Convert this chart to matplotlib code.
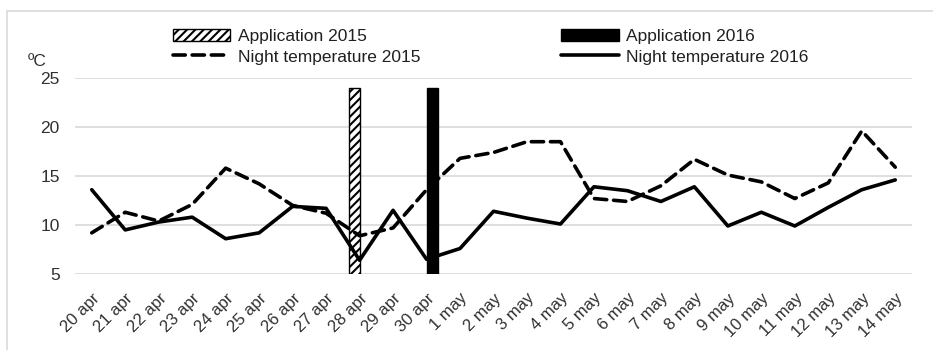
import matplotlib
matplotlib.use("Agg")
import matplotlib.pyplot as plt
import matplotlib.patches as mpatches
from matplotlib.lines import Line2D
import numpy as np

plt.rcParams['font.family'] = ['Liberation Sans', 'DejaVu Sans']
plt.rcParams['hatch.linewidth'] = 1.5

dates = ["20 apr", "21 apr", "22 apr", "23 apr", "24 apr", "25 apr", "26 apr",
         "27 apr", "28 apr", "29 apr", "30 apr", "1 may", "2 may", "3 may",
         "4 may", "5 may", "6 may", "7 may", "8 may", "9 may", "10 may",
         "11 may", "12 may", "13 may", "14 may"]

night_2015 = [9.2, 11.3, 10.4, 12.1, 15.8, 14.2, 12.0, 11.2, 8.9, 9.7, 13.6,
              16.8, 17.4, 18.5, 18.5, 12.7, 12.4, 14.0, 16.7, 15.1, 14.4,
              12.7, 14.3, 19.6, 15.9]
night_2016 = [13.6, 9.5, 10.3, 10.8, 8.6, 9.2, 11.9, 11.7, 6.4, 11.5, 6.5,
              7.6, 11.4, 10.7, 10.1, 13.9, 13.5, 12.4, 13.9, 9.9, 11.3,
              9.9, 11.8, 13.6, 14.6]

app_2015_dates = ["28 apr"]
app_2015_values = [24]
app_2016_dates = ["30 apr"]
app_2016_values = [24]

yticks = [5, 10, 15, 20, 25]

fig = plt.figure(figsize=(9.33, 3.5), dpi=100)
W, H = 933, 350
ax = fig.add_axes([75 / W, 1 - 274 / H, (912 - 75) / W, (274 - 78) / H])

x = np.arange(len(dates))
bw = 0.33
x15 = [dates.index(d) for d in app_2015_dates]
x16 = [dates.index(d) for d in app_2016_dates]
ax.bar(np.array(x15) - bw / 2, app_2015_values, width=bw, color='white',
       edgecolor='black', hatch='////', linewidth=1.0, zorder=2)
ax.bar(np.array(x16) + bw / 2, app_2016_values, width=bw, color='black',
       edgecolor='black', linewidth=1.0, zorder=2)

lw = 2.6
ax.plot(x, night_2015, color='black', lw=lw, linestyle=(0, (3.4, 1.9)),
        dash_capstyle='round', solid_joinstyle='round', zorder=3)
ax.plot(x, night_2016, color='black', lw=lw, solid_joinstyle='round',
        solid_capstyle='round', zorder=3)

ax.set_xlim(-0.5, len(dates) - 0.5)
ax.set_ylim(5, 25)
ax.set_yticks(yticks)
ax.set_xticks(x)
ax.set_xticklabels(dates, rotation=45, ha='right', rotation_mode='anchor',
                   fontsize=12, color='#303030')
ax.tick_params(axis='x', length=0, pad=12)
ax.tick_params(axis='y', length=0, pad=11, labelsize=12.5, labelcolor='#303030')
ax.grid(axis='y', color='#d9d9d9', lw=1.2, zorder=0)
ax.set_axisbelow(True)
for s in ax.spines.values():
    s.set_visible(False)

fig.text(28 / W, 1 - 61 / H, "ºC", fontsize=12.5, color='#303030',
         ha='left', va='center')

# figure border
fig.patches.append(mpatches.Rectangle((7 / W, -0.1), 1.2, (1 - 11 / H) + 0.1,
                                      transform=fig.transFigure, fill=False,
                                      edgecolor='#d9d9d9', lw=1.2))

h1 = mpatches.Patch(facecolor='white', edgecolor='black', hatch='////', lw=1.0)
h2 = Line2D([], [], color='black', lw=lw, linestyle=(0, (3.4, 1.9)),
            dash_capstyle='round')
h3 = mpatches.Patch(facecolor='black', edgecolor='black')
h4 = Line2D([], [], color='black', lw=lw, solid_capstyle='round')
fig.legend([h1, h2, h3, h4],
           ["Application 2015", "Night temperature 2015",
            "Application 2016", "Night temperature 2016"],
           ncol=2, loc='upper left', bbox_to_anchor=(173 / W, 1 - 29 / H),
           frameon=False, fontsize=12.5, handlelength=3.3, handletextpad=0.45,
           columnspacing=8.1, labelspacing=0.3, borderpad=0, borderaxespad=0,
           labelcolor='#202020')

fig.savefig("out.png", dpi=100)
